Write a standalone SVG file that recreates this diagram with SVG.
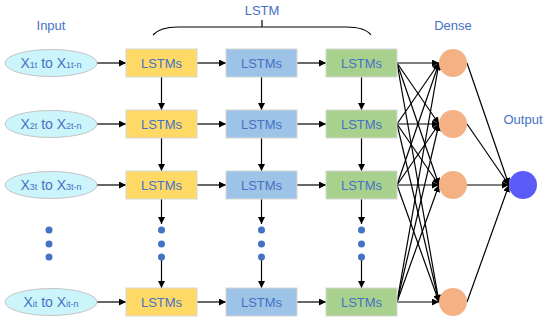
<svg xmlns="http://www.w3.org/2000/svg" width="550" height="325" viewBox="0 0 550 325">
<defs>
<marker id="ah" markerUnits="userSpaceOnUse" markerWidth="8" markerHeight="8" refX="7" refY="3.5" orient="auto"><path d="M0,0 L7,3.5 L0,7 z" fill="#000"/></marker>
<style>
.lbl{font-family:"Liberation Sans",Arial,sans-serif;font-size:13px;fill:#4472c4;text-anchor:middle}
.in{font-family:"Liberation Sans",Arial,sans-serif;font-size:14px;fill:#4472c4;text-anchor:middle}
.sub{font-size:9px}
.ell{fill:#ccf5fb;stroke:#c4c4c4;stroke-width:1}
.y{fill:#ffd966;stroke:#d6d6d6;stroke-width:1}
.b{fill:#9dc3e6;stroke:#d6d6d6;stroke-width:1}
.g{fill:#a9d18e;stroke:#d6d6d6;stroke-width:1}
.d{fill:#f4b183}
.o{fill:#5b5bf7}
.dot{fill:#4472c4}
line{stroke:#000;stroke-width:1.2;fill:none;marker-end:url(#ah)}
.br{stroke:#000;stroke-width:1.2;fill:none}
</style>
</defs>
<rect width="550" height="325" fill="#fff"/>
<text class="lbl" x="51" y="30">Input</text>
<text class="lbl" x="262" y="15">LSTM</text>
<text class="lbl" x="453" y="30">Dense</text>
<text class="lbl" x="523" y="124">Output</text>
<path class="br" d="M153,35 Q160,27 178,27 L346,27 Q365,27 371,35 M262,20 L262,27"/>
<g id="connectors">
<line x1="97" y1="63" x2="126" y2="63"/><line x1="197" y1="63" x2="226" y2="63"/><line x1="297" y1="63" x2="326" y2="63"/>
<line x1="97" y1="124" x2="126" y2="124"/><line x1="197" y1="124" x2="226" y2="124"/><line x1="297" y1="124" x2="326" y2="124"/>
<line x1="97" y1="185" x2="126" y2="185"/><line x1="197" y1="185" x2="226" y2="185"/><line x1="297" y1="185" x2="326" y2="185"/>
<line x1="97" y1="302" x2="126" y2="302"/><line x1="197" y1="302" x2="226" y2="302"/><line x1="297" y1="302" x2="326" y2="302"/>
<line x1="161.5" y1="77" x2="161.5" y2="110"/><line x1="261.5" y1="77" x2="261.5" y2="110"/><line x1="361.5" y1="77" x2="361.5" y2="110"/>
<line x1="161.5" y1="138" x2="161.5" y2="171"/><line x1="261.5" y1="138" x2="261.5" y2="171"/><line x1="361.5" y1="138" x2="361.5" y2="171"/>
<line x1="161.5" y1="199" x2="161.5" y2="224"/><line x1="261.5" y1="199" x2="261.5" y2="224"/><line x1="361.5" y1="199" x2="361.5" y2="224"/>
<line x1="161.5" y1="257" x2="161.5" y2="288"/><line x1="261.5" y1="257" x2="261.5" y2="288"/><line x1="361.5" y1="257" x2="361.5" y2="288"/>
<line x1="397" y1="63" x2="439" y2="63"/><line x1="397" y1="63" x2="439" y2="124"/><line x1="397" y1="63" x2="439" y2="185"/><line x1="397" y1="63" x2="439" y2="302"/>
<line x1="397" y1="124" x2="439" y2="63"/><line x1="397" y1="124" x2="439" y2="124"/><line x1="397" y1="124" x2="439" y2="185"/><line x1="397" y1="124" x2="439" y2="302"/>
<line x1="397" y1="185" x2="439" y2="63"/><line x1="397" y1="185" x2="439" y2="124"/><line x1="397" y1="185" x2="439" y2="185"/><line x1="397" y1="185" x2="439" y2="302"/>
<line x1="397" y1="302" x2="439" y2="63"/><line x1="397" y1="302" x2="439" y2="124"/><line x1="397" y1="302" x2="439" y2="185"/><line x1="397" y1="302" x2="439" y2="302"/>
<line x1="467" y1="63" x2="509" y2="185"/><line x1="467" y1="124" x2="509" y2="185"/><line x1="467" y1="185" x2="509" y2="185"/><line x1="467" y1="302" x2="509" y2="185"/>
</g>
<g id="in1"><ellipse class="ell" cx="51" cy="63" rx="46" ry="13.5"/><text class="in" x="51" y="68">X<tspan class="sub">1t</tspan> to X<tspan class="sub">1t-n</tspan></text></g>
<g id="in2"><ellipse class="ell" cx="51" cy="124" rx="46" ry="13.5"/><text class="in" x="51" y="129">X<tspan class="sub">2t</tspan> to X<tspan class="sub">2t-n</tspan></text></g>
<g id="in3"><ellipse class="ell" cx="51" cy="185" rx="46" ry="13.5"/><text class="in" x="51" y="190">X<tspan class="sub">3t</tspan> to X<tspan class="sub">3t-n</tspan></text></g>
<g id="in5"><ellipse class="ell" cx="51" cy="302" rx="46" ry="13.5"/><text class="in" x="51" y="307">X<tspan class="sub">it</tspan> to X<tspan class="sub">it-n</tspan></text></g>
<g id="dots">
<circle class="dot" cx="49" cy="230" r="3.5"/><circle class="dot" cx="49" cy="244" r="3.5"/><circle class="dot" cx="49" cy="257" r="3.5"/>
<circle class="dot" cx="161.5" cy="230" r="3.5"/><circle class="dot" cx="161.5" cy="244" r="3.5"/><circle class="dot" cx="161.5" cy="257" r="3.5"/>
<circle class="dot" cx="261.5" cy="230" r="3.5"/><circle class="dot" cx="261.5" cy="244" r="3.5"/><circle class="dot" cx="261.5" cy="257" r="3.5"/>
<circle class="dot" cx="361.5" cy="230" r="3.5"/><circle class="dot" cx="361.5" cy="244" r="3.5"/><circle class="dot" cx="361.5" cy="257" r="3.5"/>
</g>
<g id="y1"><rect class="y" x="126" y="49" width="71" height="28"/><text class="lbl" x="161.5" y="68">LSTMs</text></g>
<g id="b1"><rect class="b" x="226" y="49" width="71" height="28"/><text class="lbl" x="261.5" y="68">LSTMs</text></g>
<g id="g1"><rect class="g" x="326" y="49" width="71" height="28"/><text class="lbl" x="361.5" y="68">LSTMs</text></g>
<g id="y2"><rect class="y" x="126" y="110" width="71" height="28"/><text class="lbl" x="161.5" y="129">LSTMs</text></g>
<g id="b2"><rect class="b" x="226" y="110" width="71" height="28"/><text class="lbl" x="261.5" y="129">LSTMs</text></g>
<g id="g2"><rect class="g" x="326" y="110" width="71" height="28"/><text class="lbl" x="361.5" y="129">LSTMs</text></g>
<g id="y3"><rect class="y" x="126" y="171" width="71" height="28"/><text class="lbl" x="161.5" y="190">LSTMs</text></g>
<g id="b3"><rect class="b" x="226" y="171" width="71" height="28"/><text class="lbl" x="261.5" y="190">LSTMs</text></g>
<g id="g3"><rect class="g" x="326" y="171" width="71" height="28"/><text class="lbl" x="361.5" y="190">LSTMs</text></g>
<g id="y5"><rect class="y" x="126" y="288" width="71" height="28"/><text class="lbl" x="161.5" y="307">LSTMs</text></g>
<g id="b5"><rect class="b" x="226" y="288" width="71" height="28"/><text class="lbl" x="261.5" y="307">LSTMs</text></g>
<g id="g5"><rect class="g" x="326" y="288" width="71" height="28"/><text class="lbl" x="361.5" y="307">LSTMs</text></g>
<g id="d1"><circle class="d" cx="453" cy="63" r="14"/></g>
<g id="d2"><circle class="d" cx="453" cy="124" r="14"/></g>
<g id="d3"><circle class="d" cx="453" cy="185" r="14"/></g>
<g id="d4"><circle class="d" cx="453" cy="302" r="14"/></g>
<g id="out"><circle class="o" cx="523" cy="185" r="14"/></g>
</svg>
